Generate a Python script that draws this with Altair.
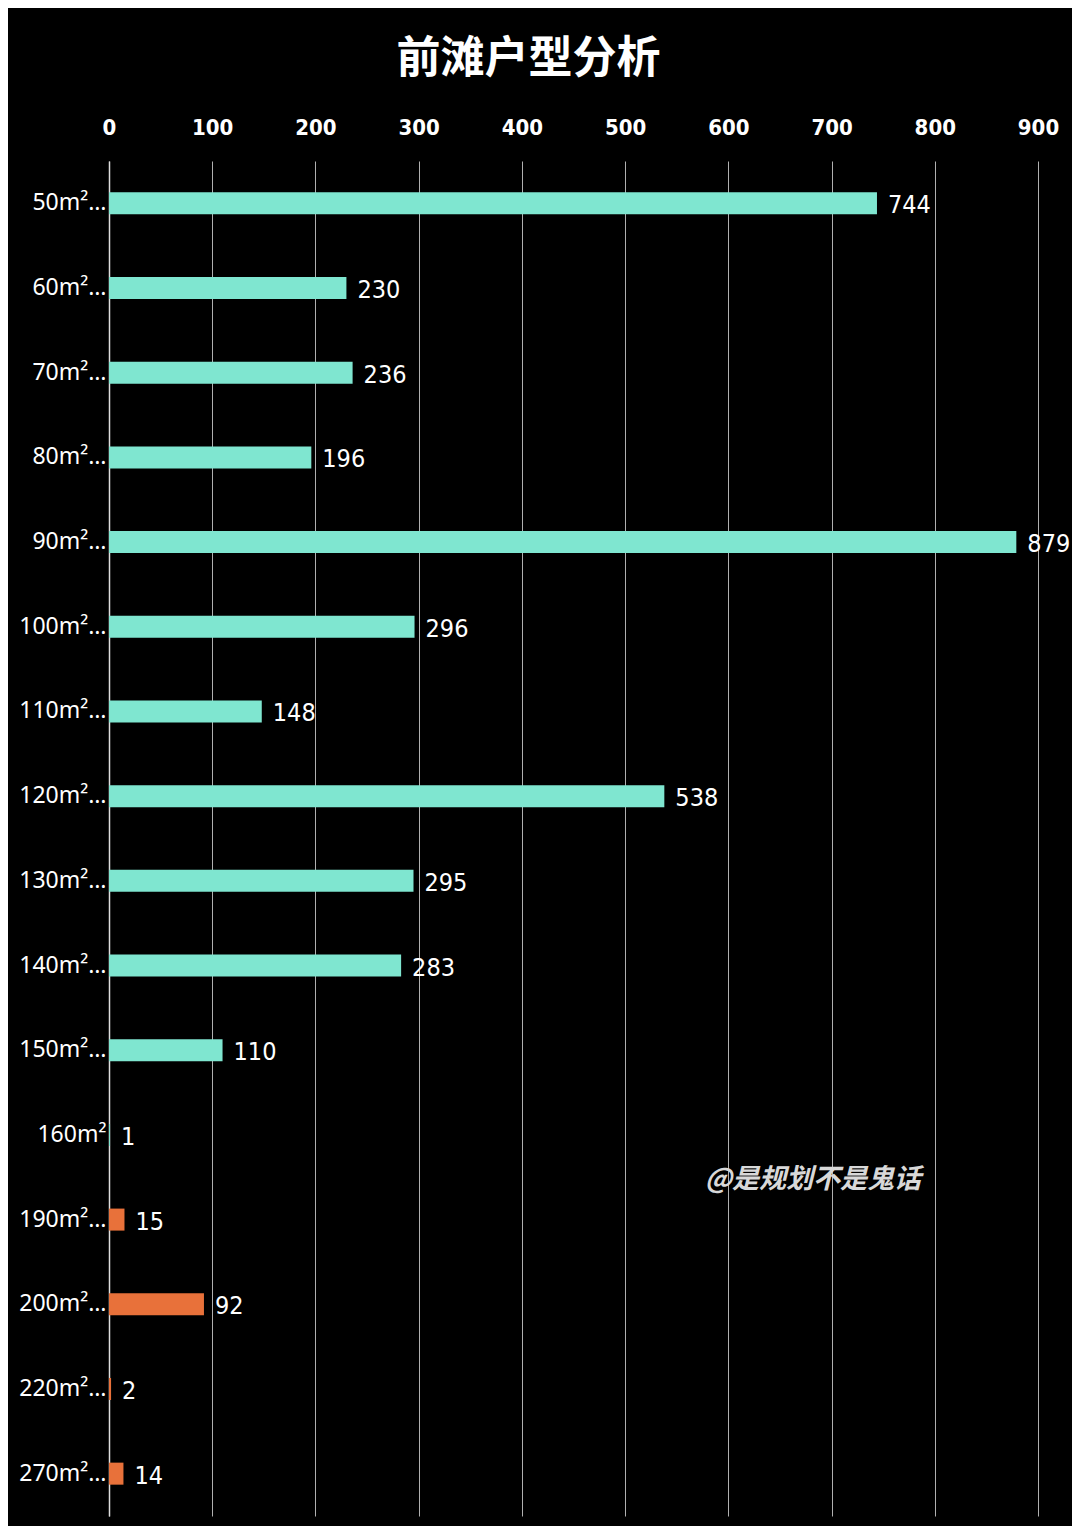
import altair as alt
import pandas as pd

categories = ["50m²…", "60m²…", "70m²…", "80m²…", "90m²…", "100m²…", "110m²…", "120m²…",
              "130m²…", "140m²…", "150m²…", "160m²", "190m²…", "200m²…", "220m²…", "270m²…"]
values = [744, 230, 236, 196, 879, 296, 148, 538, 295, 283, 110, 1, 15, 92, 2, 14]
groups = ["a"] * 12 + ["b"] * 4
x_ticks = [0, 100, 200, 300, 400, 500, 600, 700, 800, 900]

df = pd.DataFrame({"cat": categories, "val": values, "grp": groups})

y_enc = alt.Y("cat:N", sort=categories,
              scale=alt.Scale(paddingInner=0.74, paddingOuter=0.37),
              axis=alt.Axis(title=None, labelColor="white", labelFont="Noto Sans",
                            labelFontSize=23, labelPadding=3, ticks=False,
                            domainColor="#dddddd", domainWidth=1.5, grid=False))
x_scale = alt.Scale(domain=[0, 900], nice=False)

bars = alt.Chart(df).mark_bar().encode(
    y=y_enc,
    x=alt.X("val:Q", scale=x_scale,
            axis=alt.Axis(orient="top", values=x_ticks, title=None, labelColor="white",
                          labelFont="DejaVu Sans Condensed", labelFontWeight="bold",
                          labelFontSize=22, labelPadding=22, labelFlush=False,
                          ticks=False, domain=False,
                          grid=True, gridColor="#b0b0b0", gridWidth=1)),
    color=alt.Color("grp:N", scale=alt.Scale(domain=["a", "b"], range=["#7fe6d0", "#e8713a"]),
                    legend=None),
)

labels = alt.Chart(df).mark_text(align="left", baseline="middle", dx=11, dy=2,
                                 font="DejaVu Sans Condensed",
                                 fontSize=25, color="white").encode(
    y=alt.Y("cat:N", sort=categories),
    x=alt.X("val:Q", scale=x_scale),
    text="val:Q",
)

watermark = alt.Chart(pd.DataFrame({"t": ["@是规划不是鬼话"]})).mark_text(
    font="Noto Sans CJK SC", fontSize=27, fontWeight="bold", fontStyle="italic",
    color="#d8d8d8", align="center", baseline="middle").encode(
    x=alt.value(704), y=alt.value(1019), text="t:N")

chart = alt.layer(bars, labels, watermark).properties(
    width=929, height=1355,
    title=alt.TitleParams("前滩户型分析", font="Noto Sans CJK SC", fontSize=44,
                          fontWeight="bold", color="white", anchor="middle", offset=34,
                          dx=-45),
    background="black",
    autosize=alt.AutoSizeParams(type="none"),
    padding={"left": 101, "top": 153, "right": 34, "bottom": 10},
).configure_view(stroke=None)

chart.save("out.html", embed_options={"renderer": "svg", "actions": False})
